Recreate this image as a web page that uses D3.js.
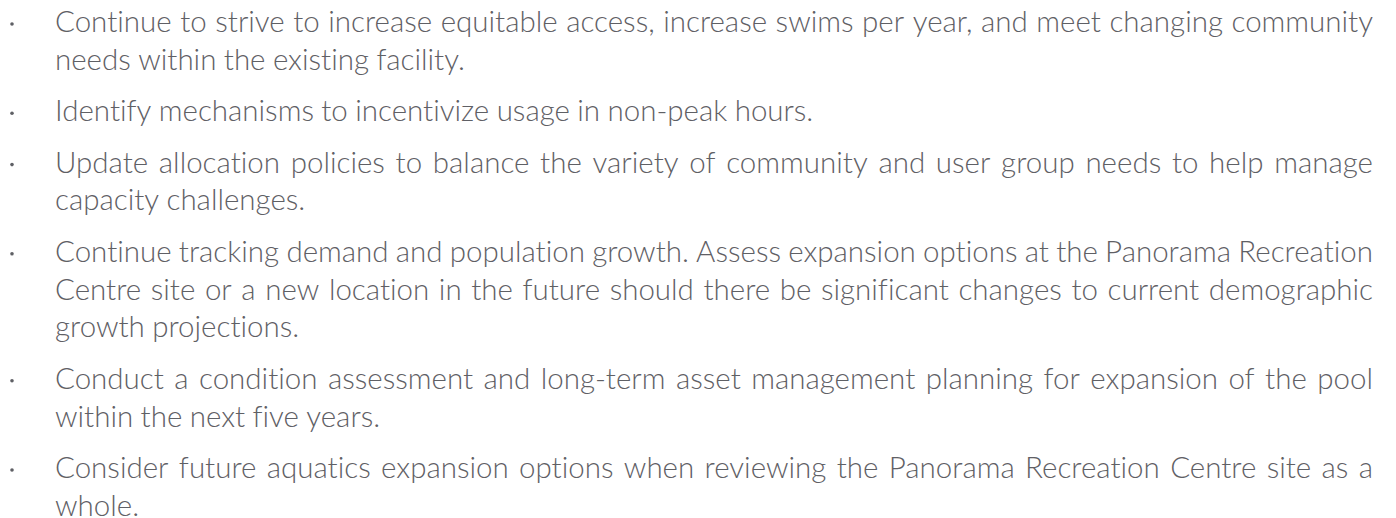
<!DOCTYPE html>
<html>
<head>
<meta charset="utf-8">
<script src="https://cdn.jsdelivr.net/npm/d3@7"></script>
<style>
  html, body { margin: 0; padding: 0; background: #fff; }
  svg { display: block; }
  text { font-variant-ligatures: none; font-feature-settings: "liga" 0, "dlig" 0; }
</style>
</head>
<body>
<svg id="chart" width="1396" height="518"></svg>
<script>
// Bullet items, one array of lines per item (line breaks as in the original)
const item1 = ["Continue to strive to increase equitable access, increase swims per year, and meet changing community",
               "needs within the existing facility."];
const item2 = ["Identify mechanisms to incentivize usage in non-peak hours."];
const item3 = ["Update allocation policies to balance the variety of community and user group needs to help manage",
               "capacity challenges."];
const item4 = ["Continue tracking demand and population growth. Assess expansion options at the Panorama Recreation",
               "Centre site or a new location in the future should there be significant changes to current demographic",
               "growth projections."];
const item5 = ["Conduct a condition assessment and long-term asset management planning for expansion of the pool",
               "within the next five years."];
const item6 = ["Consider future aquatics expansion options when reviewing the Panorama Recreation Centre site as a",
               "whole."];
const ITEMS = [item1, item2, item3, item4, item5, item6];

// Layout
const TEXT_LEFT = 55;
const TEXT_RIGHT = 1373;
const BULLET_X = 12;
const FIRST_BASELINE = 32;
const LINE_HEIGHT = 37.8;
const ITEM_GAP = 13.6;
const FONT_SIZE = 29.5;
const MIN_GAP = 6;
const COLOR = '#5f6065';

const svg = d3.select('#chart');

let y = FIRST_BASELINE;
ITEMS.forEach(lines => {
    // bullet
    svg.append('circle')
        .attr('cx', BULLET_X)
        .attr('cy', y - 8)
        .attr('r', 1.8)
        .attr('fill', COLOR);

    lines.forEach((line, i) => {
        const isLast = i === lines.length - 1;
        const words = line.split(' ');
        const texts = svg.append('g').selectAll('text')
            .data(words)
            .enter()
            .append('text')
            .attr('y', y)
            .attr('font-family', 'Lato, "Open Sans", sans-serif')
            .attr('font-weight', 300)
            .attr('font-size', FONT_SIZE)
            .attr('fill', COLOR)
            .text(d => d);

        let widths = [];
        texts.each(function() { widths.push(this.getComputedTextLength()); });
        const avail = TEXT_RIGHT - TEXT_LEFT;
        let total = d3.sum(widths);
        // squeeze the words a little if the line cannot fit with a minimal gap
        if (total + MIN_GAP * (words.length - 1) > avail) {
            const k = (avail - MIN_GAP * (words.length - 1)) / total;
            widths = widths.map(w => w * k);
            texts.attr('textLength', (d, j) => widths[j])
                .attr('lengthAdjust', 'spacingAndGlyphs');
            total = d3.sum(widths);
        }
        let gap = FONT_SIZE * 0.25;
        if (!isLast && words.length > 1) {
            gap = (avail - total) / (words.length - 1);
        }
        let x = TEXT_LEFT;
        texts.attr('x', (d, j) => {
            const pos = x;
            x += widths[j] + gap;
            return pos;
        });
        y += LINE_HEIGHT;
    });
    y += ITEM_GAP;
});
</script>
</body>
</html>
